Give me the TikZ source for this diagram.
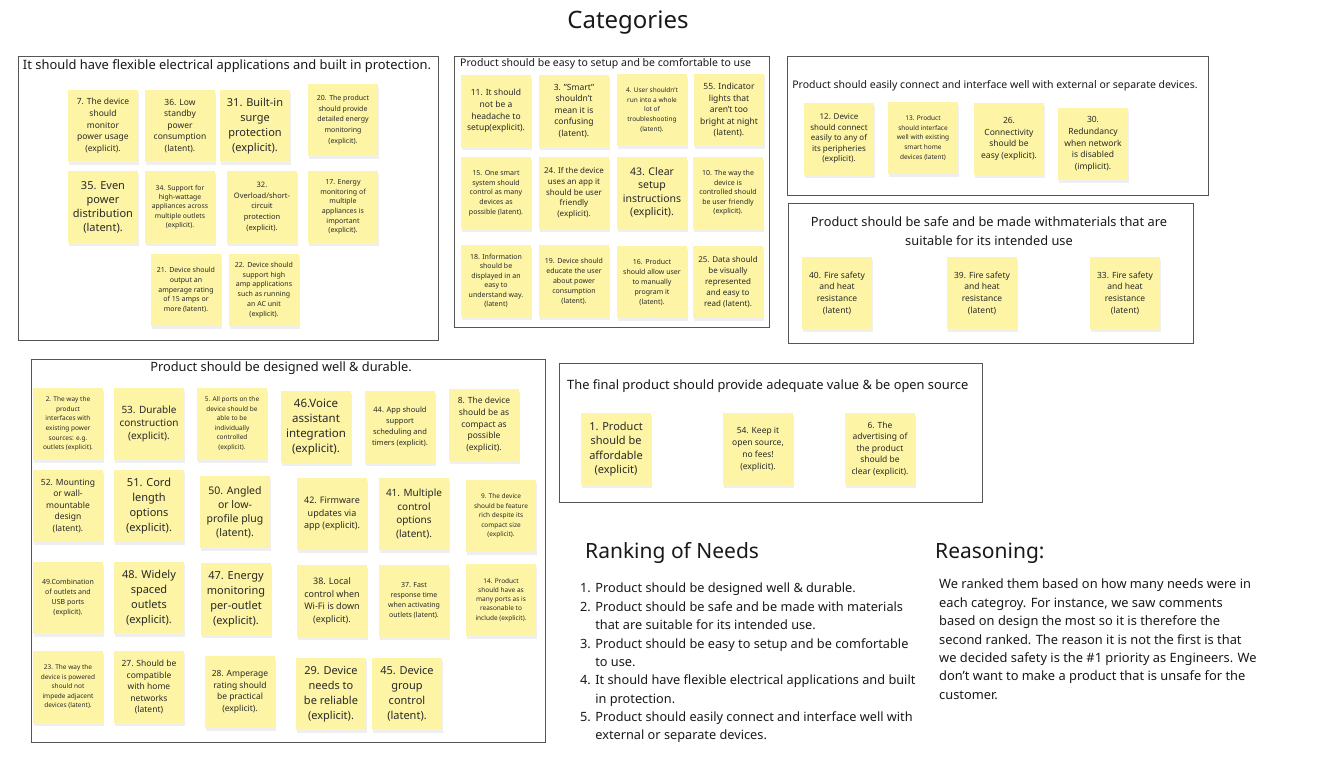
\documentclass[tikz,border=0pt]{standalone}
\usepackage{fontspec}
\setmainfont{Noto Sans}
\usetikzlibrary{shadows}
\definecolor{stickyc}{RGB}{253,245,165}
\definecolor{framec}{RGB}{85,85,85}
\definecolor{txtc}{RGB}{40,40,40}
\tikzset{
  sticky/.style={fill=stickyc, minimum width=70, minimum height=72, inner sep=0pt, align=center, text=txtc,
    drop shadow={shadow xshift=0.5pt, shadow yshift=-2.5pt, opacity=0.12}},
  fz/.style 2 args={font=\fontsize{#1}{#2}\selectfont},
  frame/.style={draw=framec, line width=1pt, inner sep=0pt},
  ttl/.style={inner sep=0pt, text=black!90, align=center},
}
\begin{document}
\begin{tikzpicture}[x=1pt,y=-1pt]
\fill[white] (0,0) rectangle (1318,758);
\useasboundingbox (0,0) rectangle (1318,758);

\node[ttl, fz={24}{28}] (title) at (628,23) {Categories};

% ---------- group 1
\node[frame, minimum width=420, minimum height=284] (g1) at (228,198) {};
\node[ttl, fz={12.9}{14}] (t1) at (227,66) {It should have flexible electrical applications and built in protection.};
\node[sticky, fz={8.5}{11.7}] (n7) at (103,126) {7. The device\\should\\monitor\\power usage\\(explicit).};
\node[sticky, fz={8.5}{11.5}] (n36) at (180,126) {36. Low\\standby\\power\\consumption\\(latent).};
\node[sticky, fz={11}{15}] (n31) at (255,126) {31. Built-in\\surge\\protection\\(explicit).};
\node[sticky, fz={7}{10.7}] (n20) at (343,120) {20. The product\\should provide\\detailed energy\\monitoring\\(explicit).};
\node[sticky, fz={11}{14}] (n35) at (103,207) {35. Even\\power\\distribution\\(latent).};
\node[sticky, fz={6.8}{9.3}] (n34) at (180,207) {34. Support for\\high-wattage\\appliances across\\multiple outlets\\(explicit).};
\node[sticky, fz={7.5}{10.7}] (n32) at (262,207) {32.\\Overload/short-\\circuit\\protection\\(explicit).};
\node[sticky, fz={7}{9.7}] (n17) at (343,207) {17. Energy\\monitoring of\\multiple\\appliances is\\important\\(explicit).};
\node[sticky, fz={7}{9.7}] (n21) at (186,290) {21. Device should\\output an\\amperage rating\\of 15 amps or\\more (latent).};
\node[sticky, fz={7}{9.7}] (n22) at (264,290) {22. Device should\\support high\\amp applications\\such as running\\an AC unit\\(explicit).};

% ---------- group 2
\node[frame, minimum width=315, minimum height=271] (g2) at (611.5,191.5) {};
\node[ttl, fz={10.5}{13}, anchor=west] (t2) at (460,64) {Product should be easy to setup and be comfortable to use};
\node[sticky, fz={8.5}{11.7}] (n11) at (496,111) {11. It should\\not be a\\headache to\\setup(explicit).};
\node[sticky, fz={8.5}{11.5}] (n3) at (574,111) {3. "Smart"\\shouldn't\\mean it is\\confusing\\(latent).};
\node[sticky, fz={6.5}{9.7}] (n4) at (652,110) {4. User shouldn't\\run into a whole\\lot of\\troubleshooting\\(latent).};
\node[sticky, fz={8.5}{11.5}] (n55) at (729,110) {55. Indicator\\lights that\\aren't too\\bright at night\\(latent).};
\node[sticky, fz={7}{9.7}] (n15) at (496,193) {15. One smart\\system should\\control as many\\devices as\\possible (latent).};
\node[sticky, fz={8}{10.8}] (n24) at (574,193) {24. If the device\\uses an app it\\should be user\\friendly\\(explicit).};
\node[sticky, fz={10.5}{13.5}] (n43) at (652,193) {43. Clear\\setup\\instructions\\(explicit).};
\node[sticky, fz={7}{9.5}] (n10) at (728,193) {10. The way the\\device is\\controlled should\\be user friendly\\(explicit).};
\node[sticky, fz={7}{9.5}] (n18) at (496,281) {18. Information\\should be\\displayed in an\\easy to\\understand way.\\(latent)};
\node[sticky, fz={7}{10}] (n19) at (574,281) {19. Device should\\educate the user\\about power\\consumption\\(latent).};
\node[sticky, fz={7}{10}] (n16) at (652,282) {16. Product\\should allow user\\to manually\\program it\\(latent).};
\node[sticky, fz={8}{11}] (n25) at (728,282) {25. Data should\\be visually\\represented\\and easy to\\read (latent).};

% ---------- group 3
\node[frame, minimum width=421, minimum height=139] (g3) at (997.5,125.5) {};
\node[ttl, fz={10.5}{13}] (t3) at (995,86) {Product should easily connect and interface well with external or separate devices.};
\node[sticky, fz={8}{10.5}] (n12) at (839,139) {12. Device\\should connect\\easily to any of\\its peripheries\\(explicit).};
\node[sticky, fz={6.5}{9.6}] (n13) at (923,138) {13. Product\\should interface\\well with existing\\smart home\\devices (latent)};
\node[sticky, fz={8.5}{11.7}] (n26) at (1009,139) {26.\\Connectivity\\should be\\easy (explicit).};
\node[sticky, fz={8.5}{11.8}] (n30) at (1093,144) {30.\\Redundancy\\when network\\is disabled\\(implicit).};

% ---------- group 4
\node[frame, minimum width=405, minimum height=140] (g4) at (990.5,273) {};
\node[ttl, fz={12.8}{19}] (t4) at (989,231.5) {Product should be safe and be made withmaterials that are\\suitable for its intended use};
\node[sticky, fz={8.5}{11.7}] (n40) at (837,293) {40. Fire safety\\and heat\\resistance\\(latent)};
\node[sticky, fz={8.5}{11.7}] (n39) at (982,293) {39. Fire safety\\and heat\\resistance\\(latent)};
\node[sticky, fz={8.5}{11.7}] (n33) at (1125,293) {33. Fire safety\\and heat\\resistance\\(latent)};

% ---------- group 5
\node[frame, minimum width=514, minimum height=383] (g5) at (288,550.5) {};
\node[ttl, fz={12.8}{14}] (t5) at (281,368) {Product should be designed well \& durable.};
\node[sticky, fz={6.5}{9.7}] (n2) at (68,424) {2. The way the\\product\\interfaces with\\existing power\\sources: e.g.\\outlets (explicit).};
\node[sticky, fz={10}{13}] (n53) at (149,424) {53. Durable\\construction\\(explicit).};
\node[sticky, fz={6.5}{9.5}] (n5) at (232,424) {5. All ports on the\\device should be\\able to be\\individually\\controlled\\(explicit).};
\node[sticky, fz={11.5}{15}] (n46) at (316,427) {46.Voice\\assistant\\integration\\(explicit).};
\node[sticky, fz={7.5}{11}] (n44) at (400,427) {44. App should\\support\\scheduling and\\timers (explicit).};
\node[sticky, fz={8.5}{11.7}] (n8) at (484,425) {8. The device\\should be as\\compact as\\possible\\(explicit).};
\node[sticky, fz={8.5}{11.5}] (n52) at (68,506) {52. Mounting\\or wall-\\mountable\\design\\(latent).};
\node[sticky, fz={11}{15}] (n51) at (149,506) {51. Cord\\length\\options\\(explicit).};
\node[sticky, fz={10.5}{14}] (n50) at (235,512) {50. Angled\\or low-\\profile plug\\(latent).};
\node[sticky, fz={9}{12.5}] (n42) at (332,514) {42. Firmware\\updates via\\app (explicit).};
\node[sticky, fz={10}{13.5}] (n41) at (414,514) {41. Multiple\\control\\options\\(latent).};
\node[sticky, fz={6.5}{9.5}] (n9) at (501,516) {9. The device\\should be feature\\rich despite its\\compact size\\(explicit).};
\node[sticky, fz={7}{10}] (n49) at (68,598) {49.Combination\\of outlets and\\USB ports\\(explicit).};
\node[sticky, fz={11}{15}] (n48) at (149,598) {48. Widely\\spaced\\outlets\\(explicit).};
\node[sticky, fz={11}{15}] (n47) at (236,599) {47. Energy\\monitoring\\per-outlet\\(explicit).};
\node[sticky, fz={9}{12.5}] (n38) at (332,601) {38. Local\\control when\\Wi-Fi is down\\(explicit).};
\node[sticky, fz={7}{10}] (n37) at (414,601) {37. Fast\\response time\\when activating\\outlets (latent).};
\node[sticky, fz={6.5}{9.3}] (n14) at (501,600) {14. Product\\should have as\\many ports as is\\reasonable to\\include (explicit).};
\node[sticky, fz={6.5}{9.5}] (n23) at (68,687) {23. The way the\\device is powered\\should not\\impede adjacent\\devices (latent).};
\node[sticky, fz={8.5}{11.5}] (n27) at (149,687) {27. Should be\\compatible\\with home\\networks\\(latent)};
\node[sticky, fz={8.5}{11.7}] (n28) at (240,692) {28. Amperage\\rating should\\be practical\\(explicit).};
\node[sticky, fz={11}{15}] (n29) at (331,694) {29. Device\\needs to\\be reliable\\(explicit).};
\node[sticky, fz={11}{15}] (n45) at (407,694) {45. Device\\group\\control\\(latent).};

% ---------- group 6
\node[frame, minimum width=423, minimum height=139] (g6) at (770.5,432.5) {};
\node[ttl, fz={12.85}{15}, anchor=west] (t6) at (567,386) {The final product should provide adequate value \& be open source};
\node[sticky, fz={11}{14.5}] (n1) at (616,449) {1. Product\\should be\\affordable\\(explicit)};
\node[sticky, fz={8.5}{12}] (n54) at (758,449) {54. Keep it\\open source,\\no fees!\\(explicit).};
\node[sticky, fz={8.5}{11.5}] (n6) at (880,449) {6. The\\advertising of\\the product\\should be\\clear (explicit).};

% ---------- ranking
\node[ttl, fz={21}{24}, anchor=west] (rk) at (585,553) {Ranking of Needs};
\node[ttl, fz={12.75}{18.38}, anchor=north west, align=left] (rklist) at (580,583) {1. Product should be designed well \& durable.\\
2. Product should be safe and be made with materials\\
\phantom{2. }that are suitable for its intended use.\\
3. Product should be easy to setup and be comfortable\\
\phantom{3. }to use.\\
4. It should have flexible electrical applications and built\\
\phantom{4. }in protection.\\
5. Product should easily connect and interface well with\\
\phantom{5. }external or separate devices.};

\node[ttl, fz={21}{24}, anchor=west] (rs) at (935,553) {Reasoning:};
\node[ttl, fz={12.85}{18.4}, anchor=north west, align=left] (rstext) at (939,579) {We ranked them based on how many needs were in\\
each categroy. For instance, we saw comments\\
based on design the most so it is therefore the\\
second ranked. The reason it is not the first is that\\
we decided safety is the \#1 priority as Engineers. We\\
don't want to make a product that is unsafe for the\\
customer.};
\end{tikzpicture}
\end{document}
